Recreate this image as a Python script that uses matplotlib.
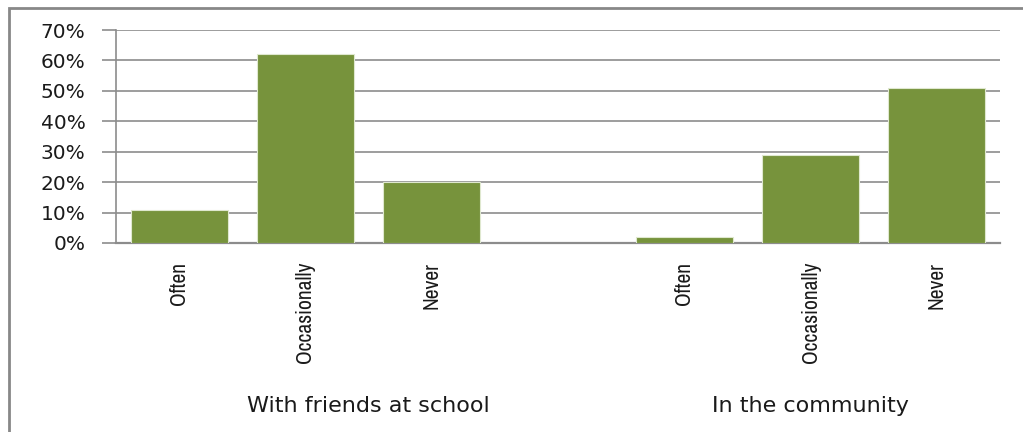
import matplotlib
matplotlib.use("Agg")
import matplotlib.pyplot as plt
from matplotlib import font_manager
from matplotlib.patches import Rectangle
from matplotlib.ticker import FuncFormatter
import matplotlib.transforms as mtransforms

# データ
categories = ["Often", "Occasionally", "Never", "", "Often", "Occasionally", "Never"]
values = [11, 62, 20, None, 2, 29, 51]
groups = ["With friends at school", "In the community"]
group_centers = [1.5, 5.0]

bar_color = "#77933C"
grid_color = "#8c8c8c"

# 細身のフォントがあればカテゴリ名に使う
narrow = sorted({f.name for f in font_manager.fontManager.ttflist
                 if "Narrow" in f.name or "Condensed" in f.name})
cat_family = narrow[:1] + ["Liberation Sans", "DejaVu Sans"]

fig = plt.figure(figsize=(10.23, 4.32), dpi=100)
ax = fig.add_axes([116 / 1023, 1 - 243 / 432, (1000 - 116) / 1023, (243 - 30) / 432])

# 棒グラフ(空欄カテゴリは描画しない)
xs = [i for i, v in enumerate(values) if v is not None]
ys = [v for v in values if v is not None]
ax.bar(xs, ys, width=0.77, color=bar_color, edgecolor="#dfe8cf", linewidth=0.8, zorder=3)

ax.set_xlim(-0.5, len(categories) - 0.5)
ax.set_ylim(0, 70)
ax.set_yticks(range(0, 71, 10))
ax.yaxis.set_major_formatter(FuncFormatter(lambda v, p: f"{int(v)}%"))
ax.grid(axis="y", color=grid_color, linewidth=1.2, zorder=0)
ax.tick_params(axis="y", length=10, width=1.2, color=grid_color, pad=12,
               labelsize=14.5, labelcolor="#1a1a1a")

ax.set_xticks(range(len(categories)))
ax.set_xticklabels(categories, rotation=90, va="top", ha="center",
                   family=cat_family, fontsize=15.5, color="#1a1a1a")
ax.tick_params(axis="x", length=0, pad=13.5)

for side in ["top", "right"]:
    ax.spines[side].set_visible(False)
ax.spines["left"].set_color(grid_color)
ax.spines["left"].set_linewidth(1.2)
ax.spines["bottom"].set_color(grid_color)
ax.spines["bottom"].set_linewidth(1.6)

# グループラベル
trans = mtransforms.blended_transform_factory(ax.transData, fig.transFigure)
for name, cx in zip(groups, group_centers):
    ax.text(cx, 1 - 406 / 432, name, transform=trans, ha="center", va="center",
            fontsize=16, color="#1a1a1a")

# 外枠
fig.patches.append(Rectangle((9 / 1023, -0.1), 1.2, 1.1 - 8 / 432, transform=fig.transFigure,
                             fill=False, edgecolor="#888888", linewidth=2))

fig.savefig("out.png", dpi=100)
plt.close(fig)
